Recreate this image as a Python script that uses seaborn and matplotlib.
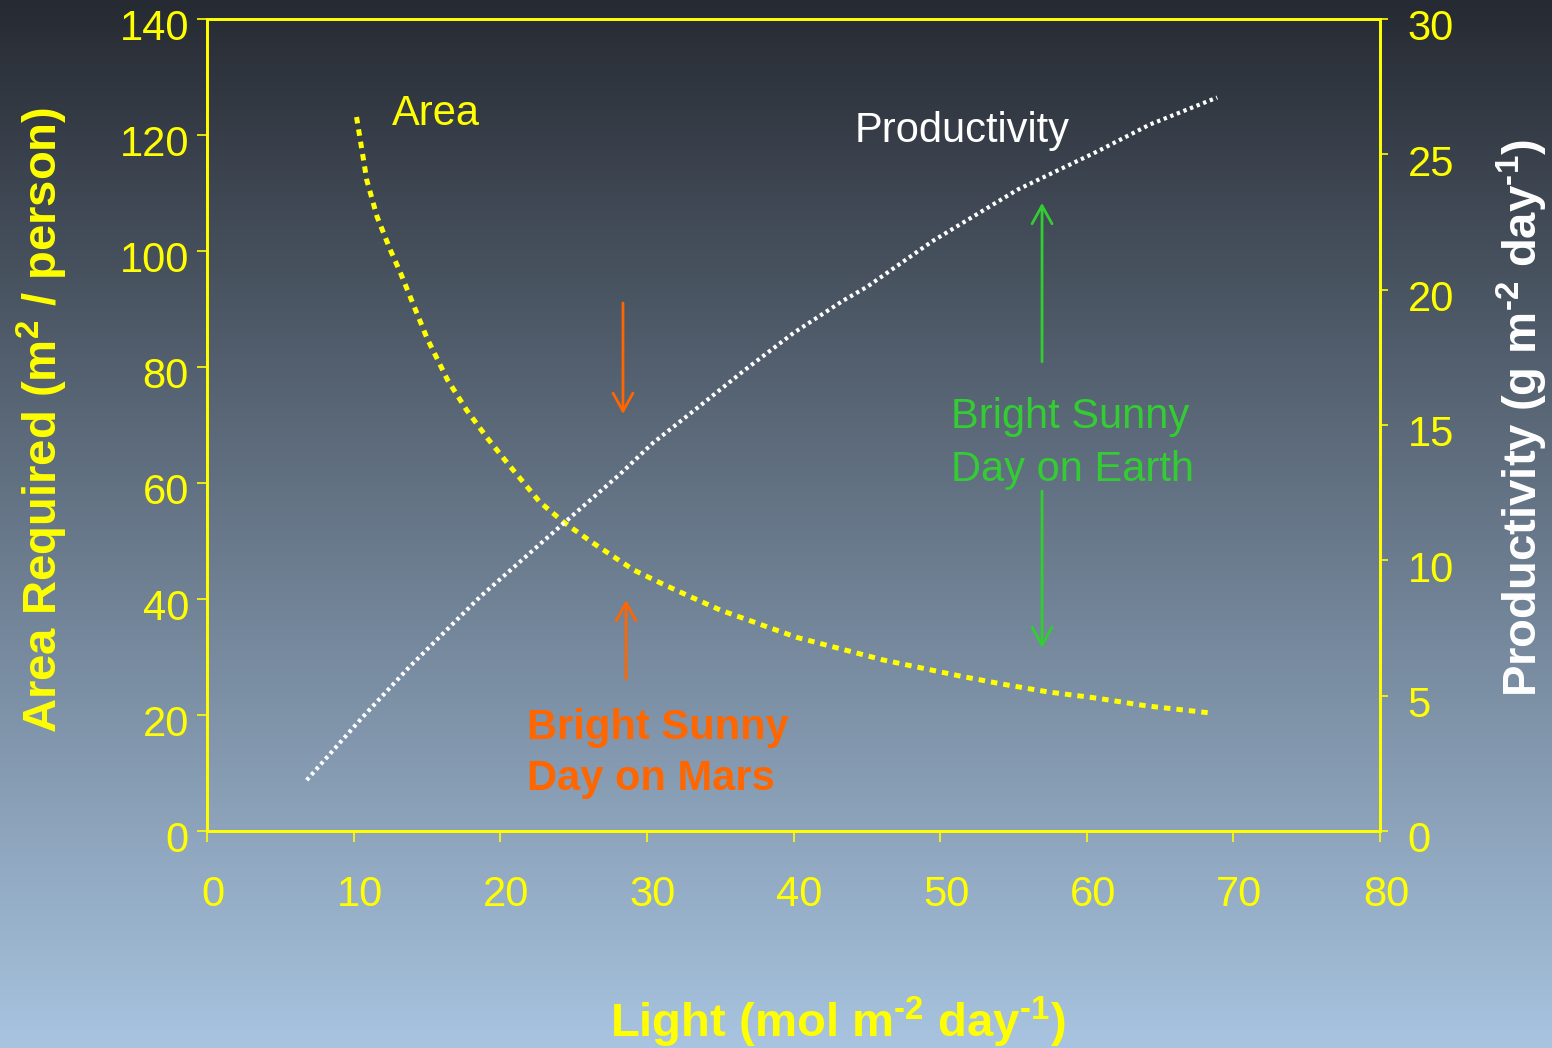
import numpy as np
import matplotlib
matplotlib.use("Agg")
import matplotlib.pyplot as plt
from matplotlib.transforms import ScaledTranslation
import seaborn as sns

# Area required per person vs. daily light integral
area_light = [10.2, 10.9, 11.6, 12.5, 13.2, 15.0, 16.4, 17.7, 19.1, 20.5, 22.7, 24.4,
              26.3, 29.1, 30.9, 32.7, 35.0, 40.2, 46.1, 51.4, 54.3, 57.3, 60.7, 64.0, 68.6]
area_values = [123.1, 112.2, 105.9, 100.2, 96.2, 85.0, 77.8, 72.6, 67.8, 63.4, 56.7, 53.1,
               49.7, 45.0, 42.8, 40.7, 38.1, 33.4, 29.5, 26.7, 25.3, 24.0, 22.9, 21.6, 20.3]

# Crop productivity vs. daily light integral
prod_light = [6.8, 10.6, 13.8, 18.6, 24.6, 28.2, 30.4, 33.6, 36.6, 40.0, 43.4, 45.0,
              49.5, 55.3, 60.7, 64.3, 68.9]
prod_values = [1.88, 4.2, 6.06, 8.64, 11.5, 13.2, 14.33, 15.7, 17.0, 18.4, 19.6, 20.1,
               21.8, 23.7, 25.1, 26.1, 27.1]

x_ticks = [0, 10, 20, 30, 40, 50, 60, 70, 80]
left_ticks = [0, 20, 40, 60, 80, 100, 120, 140]
right_ticks = [0, 5, 10, 15, 20, 25, 30]

YELLOW = "#ffff00"
GREEN = "#33cc33"
ORANGE = "#ff6600"

sns.set_theme(style="ticks")
plt.rcParams["font.family"] = ["Liberation Sans", "DejaVu Sans"]
plt.rcParams["mathtext.fontset"] = "custom"
plt.rcParams["mathtext.rm"] = "Liberation Sans:bold"
plt.rcParams["mathtext.default"] = "regular"

fig = plt.figure(figsize=(15.52, 10.48), dpi=100)

# vertical gradient backdrop
bg = fig.add_axes([0, 0, 1, 1], zorder=-10)
top = np.array([38, 42, 50]) / 255
bottom = np.array([168, 196, 224]) / 255
t = np.linspace(0, 1, 512)[:, None]
grad = top + (bottom - top) * t
bg.imshow(grad[:, None, :], aspect="auto", extent=[0, 1, 0, 1], origin="upper")
bg.axis("off")

ax = fig.add_axes([207 / 1552, 217 / 1048, 1173 / 1552, 812 / 1048])
ax.patch.set_alpha(0)
ax2 = ax.twinx()
ax2.patch.set_alpha(0)

sns.lineplot(x=area_light, y=area_values, ax=ax, color=YELLOW, lw=3.6,
             linestyle=(0, (1.3, 1.2)))
sns.lineplot(x=prod_light, y=prod_values, ax=ax2, color="white", lw=3.0,
             linestyle=(0, (0.8, 0.9)))

ax.set_xlim(0, 80)
ax.set_ylim(0, 140)
ax2.set_ylim(0, 30)
ax.set_xticks(x_ticks)
ax.set_yticks(left_ticks)
ax2.set_yticks(right_ticks)
ax.set_xlabel("")
ax.set_ylabel("")
ax2.set_ylabel("")

for a in (ax, ax2):
    for s in a.spines.values():
        s.set_visible(True)
        s.set_color(YELLOW)
        s.set_linewidth(2)

ax.tick_params(axis="x", colors=YELLOW, length=8, width=1.2, pad=24, labelsize=30)
ax.tick_params(axis="y", colors=YELLOW, length=7, width=1.2, pad=6, labelsize=30)
ax2.tick_params(axis="y", colors=YELLOW, length=6, width=1.2, pad=14, labelsize=30)

# small offsets of the tick labels relative to their ticks
def shift(labels, dx_px, dy_px):
    off = ScaledTranslation(dx_px / 100, dy_px / 100, fig.dpi_scale_trans)
    for lbl in labels:
        lbl.set_transform(lbl.get_transform() + off)

shift(ax.get_xticklabels(), 6, 0)
shift(ax.get_yticklabels(), 0, -5)
shift(ax2.get_yticklabels(), 0, -6)

# curve names
ax.text(12.62, 121.7, "Area", color=YELLOW, fontsize=30, va="baseline", ha="left")
ax.text(44.19, 118.8, "Productivity", color="white", fontsize=30, va="baseline", ha="left")

# Earth annotation
ax.text(50.74, 69.5, "Bright Sunny", color=GREEN, fontsize=30, va="baseline", ha="left")
ax.text(50.74, 60.3, "Day on Earth", color=GREEN, fontsize=30, va="baseline", ha="left")
arrow_kw = dict(arrowstyle="->,head_length=0.65,head_width=0.36", lw=2,
                shrinkA=0, shrinkB=0, mutation_scale=20)
ax.annotate("", xy=(56.95, 108.3), xytext=(56.95, 80.9),
            arrowprops=dict(color=GREEN, **arrow_kw))
ax.annotate("", xy=(56.95, 31.55), xytext=(56.95, 58.6),
            arrowprops=dict(color=GREEN, **arrow_kw))

# Mars annotation
ax.text(21.82, 15.86, "Bright Sunny", color=ORANGE, fontsize=30, fontweight="bold",
        va="baseline", ha="left")
ax.text(21.82, 7.07, "Day on Mars", color=ORANGE, fontsize=30, fontweight="bold",
        va="baseline", ha="left")
ax.annotate("", xy=(28.37, 71.9), xytext=(28.37, 91.03),
            arrowprops=dict(color=ORANGE, **arrow_kw))
ax.annotate("", xy=(28.58, 39.83), xytext=(28.58, 26.2),
            arrowprops=dict(color=ORANGE, **arrow_kw))

# axis titles
fig.text(838 / 1552, 11 / 1048, r"Light (mol m$^{\text{-}2}$ day$^{\text{-}1}$)",
         color=YELLOW, fontsize=34, fontweight="bold", ha="center", va="baseline")
fig.text(42 / 1552, (1048 - 420) / 1048, r"Area Required (m$^{2}$ / person)",
         color=YELLOW, fontsize=34, fontweight="bold", ha="center", va="center",
         rotation=90)
fig.text(1522 / 1552, (1048 - 418) / 1048,
         r"Productivity (g m$^{\text{-}2}$ day$^{\text{-}1}$)",
         color="white", fontsize=34, fontweight="bold", ha="center", va="center",
         rotation=90)

fig.savefig("out.png", dpi=100)
